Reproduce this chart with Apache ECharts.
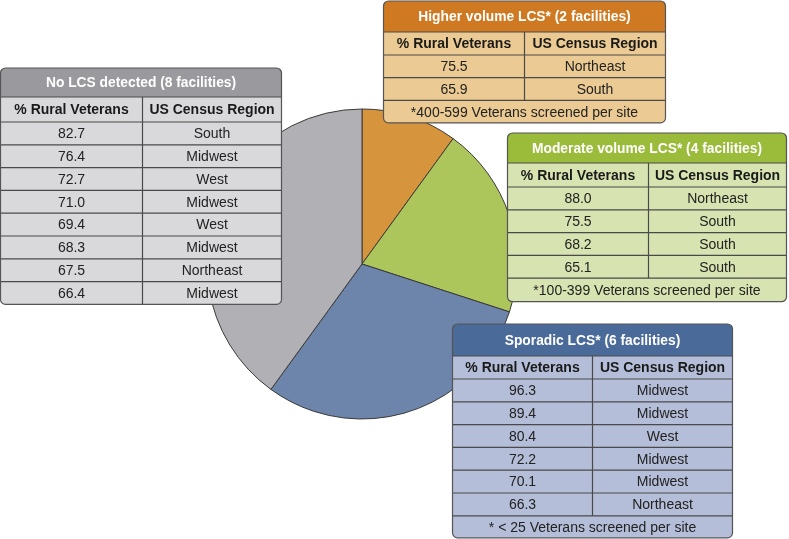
<!DOCTYPE html>
<html>
<head>
<meta charset="utf-8">
<script src="https://cdn.jsdelivr.net/npm/echarts@6/dist/echarts.min.js"></script>
<style>html,body{margin:0;padding:0;background:#fff}#c{width:789px;height:539px}</style>
</head>
<body>
<div id="c"></div>
<script>
// ---- data ----
const groups = ['Higher volume LCS*', 'Moderate volume LCS*', 'Sporadic LCS*', 'No LCS detected'];
const facilityCounts = [2, 4, 6, 8];
const colHeaders = ['% Rural Veterans', 'US Census Region'];
const higherPct = ['75.5', '65.9'];
const higherRegion = ['Northeast', 'South'];
const higherNote = '*400-599 Veterans screened per site';
const moderatePct = ['88.0', '75.5', '68.2', '65.1'];
const moderateRegion = ['Northeast', 'South', 'South', 'South'];
const moderateNote = '*100-399 Veterans screened per site';
const sporadicPct = ['96.3', '89.4', '80.4', '72.2', '70.1', '66.3'];
const sporadicRegion = ['Midwest', 'Midwest', 'West', 'Midwest', 'Midwest', 'Northeast'];
const sporadicNote = '* < 25 Veterans screened per site';
const noLcsPct = ['82.7', '76.4', '72.7', '71.0', '69.4', '68.3', '67.5', '66.4'];
const noLcsRegion = ['South', 'Midwest', 'West', 'Midwest', 'West', 'Midwest', 'Northeast', 'Midwest'];

// ---- styles ----
const sliceColors = ['#d6953d', '#adc65c', '#6d84ab', '#b1b1b5'];
const headColors = ['#cf7a22', '#9bbb3a', '#4a6a9a', '#9a9a9e'];
const bodyColors = ['#ecca93', '#d7e3b0', '#b4bed8', '#d9d9db'];
const FONT = '"Liberation Sans", Arial, Helvetica, sans-serif';

function makeTable(idx, L, pcts, regions, note) {
  const els = [];
  const x = L.x, y = L.y, w = L.w;
  const rowsH = pcts.length * L.rowH;
  const h = L.headH + L.colH + rowsH + (note ? L.footH : 0);
  const z = 10;
  els.push({type: 'rect', z: z, shape: {x: x, y: y, width: w, height: h, r: 5},
    style: {fill: bodyColors[idx], stroke: null}});
  els.push({type: 'rect', z: z + 1, shape: {x: x, y: y, width: w, height: L.headH, r: [5, 5, 0, 0]},
    style: {fill: headColors[idx]}});
  els.push({type: 'text', z: z + 3, style: {x: x + w / 2, y: y + L.headH / 2 + 1,
    text: groups[idx] + ' (' + facilityCounts[idx] + ' facilities)', align: 'center', verticalAlign: 'middle',
    fill: '#fff', font: 'bold 13.8px ' + FONT}});
  const lineStyle = {stroke: '#4a4a4a', lineWidth: 1.2};
  const hLine = (yy) => els.push({type: 'line', z: z + 2,
    shape: {x1: x, y1: yy, x2: x + w, y2: yy}, style: lineStyle});
  hLine(y + L.headH);
  const cy0 = y + L.headH;
  const divX = x + L.div;
  els.push({type: 'text', z: z + 3, style: {x: x + L.div / 2, y: cy0 + L.colH / 2 + 1, text: colHeaders[0],
    align: 'center', verticalAlign: 'middle', fill: '#1a1a1a', font: 'bold 14px ' + FONT}});
  els.push({type: 'text', z: z + 3, style: {x: divX + (w - L.div) / 2, y: cy0 + L.colH / 2 + 1, text: colHeaders[1],
    align: 'center', verticalAlign: 'middle', fill: '#1a1a1a', font: 'bold 14px ' + FONT}});
  hLine(cy0 + L.colH);
  let ry = cy0 + L.colH;
  for (let i = 0; i < pcts.length; i++) {
    els.push({type: 'text', z: z + 3, style: {x: x + L.div / 2, y: ry + L.rowH / 2 + 1, text: pcts[i],
      align: 'center', verticalAlign: 'middle', fill: '#222', font: '14px ' + FONT}});
    els.push({type: 'text', z: z + 3, style: {x: divX + (w - L.div) / 2, y: ry + L.rowH / 2 + 1, text: regions[i],
      align: 'center', verticalAlign: 'middle', fill: '#222', font: '14px ' + FONT}});
    ry += L.rowH;
    if (i < pcts.length - 1 || note) hLine(ry);
  }
  els.push({type: 'line', z: z + 2, shape: {x1: divX, y1: cy0, x2: divX, y2: ry}, style: lineStyle});
  if (note) {
    els.push({type: 'text', z: z + 3, style: {x: x + w / 2, y: ry + L.footH / 2 + 1, text: note,
      align: 'center', verticalAlign: 'middle', fill: '#222', font: '14px ' + FONT}});
  }
  els.push({type: 'rect', z: z + 4, shape: {x: x, y: y, width: w, height: h, r: 5},
    style: {fill: null, stroke: '#555', lineWidth: 1.2}});
  return els;
}

const layouts = [
  {x: 383.5, y: 1, w: 282, headH: 31, colH: 23, rowH: 22.7, footH: 22.5, div: 141},
  {x: 507.5, y: 133, w: 279, headH: 30, colH: 24, rowH: 22.8, footH: 23.5, div: 141},
  {x: 452.5, y: 324, w: 280, headH: 32, colH: 23, rowH: 22.8, footH: 22, div: 140},
  {x: 0.5, y: 68, w: 281, headH: 29, colH: 25, rowH: 22.8, footH: 0, div: 142}
];

const graphics = []
  .concat(makeTable(0, layouts[0], higherPct, higherRegion, higherNote))
  .concat(makeTable(1, layouts[1], moderatePct, moderateRegion, moderateNote))
  .concat(makeTable(2, layouts[2], sporadicPct, sporadicRegion, sporadicNote))
  .concat(makeTable(3, layouts[3], noLcsPct, noLcsRegion, null));

const chart = echarts.init(document.getElementById('c'), null, {renderer: 'canvas'});
chart.setOption({
  animation: false,
  backgroundColor: '#fff',
  series: [{
    type: 'pie',
    center: [362, 264],
    radius: [0, 155],
    startAngle: 90,
    clockwise: true,
    silent: true,
    label: {show: false},
    labelLine: {show: false},
    itemStyle: {borderColor: '#3a3a3a', borderWidth: 1},
    data: groups.map((g, i) => ({name: g, value: facilityCounts[i], itemStyle: {color: sliceColors[i]}}))
  }],
  graphic: graphics
});
</script>
</body>
</html>
